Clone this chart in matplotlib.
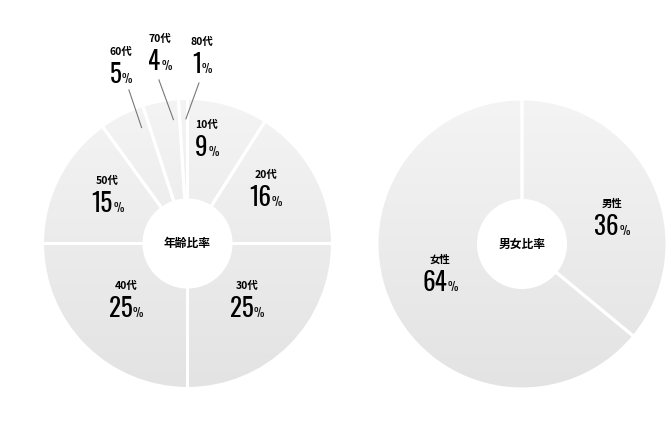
import numpy as np
import matplotlib.pyplot as plt
from matplotlib import font_manager
from matplotlib.colors import LinearSegmentedColormap
from matplotlib.offsetbox import TextArea, HPacker, AnnotationBbox

# data
age_labels = ['10代', '20代', '30代', '40代', '50代', '60代', '70代', '80代']
age_values = [9, 16, 25, 25, 15, 5, 4, 1]
sex_labels = ['男性', '女性']
sex_values = [36, 64]

# label layout (pie radius units) for the small caption of each slice
age_text_pos = [(0.134, 0.817), (0.541, 0.472), (0.410, -0.293), (-0.424, -0.293),
                (-0.552, 0.431), (-0.459, 1.321), (-0.190, 1.410), (0.100, 1.390)]
sex_text_pos = [(0.621, 0.276), (-0.566, -0.110)]
# leader line starts for slices whose label sits outside
leader_start = {5: (-0.404, 1.059), 6: (-0.197, 1.128), 7: (0.079, 1.107)}

installed = {f.name for f in font_manager.fontManager.ttflist}
JP = 'Noto Sans CJK JP'
NUM = 'DejaVu Sans'
for cand in ['Oswald', 'Roboto Condensed', 'Barlow Condensed', 'Archivo Narrow',
             'PT Sans Narrow', 'Liberation Sans Narrow']:
    if cand in installed:
        NUM = cand
        break

grad_cmap = LinearSegmentedColormap.from_list('g', ['#f4f4f4', '#e3e3e3'])
grad = np.linspace(0, 1, 256).reshape(-1, 1)

fig = plt.figure(figsize=(6.7, 4.24), dpi=100)
fig.patch.set_facecolor('white')


def donut(ax, values, labels, text_pos, title, leaders={}):
    wedges, _ = ax.pie(values, startangle=90, counterclock=False, radius=1,
                       wedgeprops=dict(width=0.70, facecolor='none',
                                       edgecolor='white', linewidth=2.2, zorder=3))
    for w in wedges:
        im = ax.imshow(grad, extent=(-1, 1, -1, 1), cmap=grad_cmap, origin='upper',
                       aspect='auto', zorder=1, vmin=0, vmax=1)
        im.set_clip_path(w)
    ax.set_xlim(-1, 1)
    ax.set_ylim(-1, 1)
    ax.set_aspect('equal')
    ax.axis('off')

    ax.text(0, 0, title, ha='center', va='center', fontsize=8.5,
            fontweight='bold', family=JP, zorder=5)

    total = float(sum(values))
    start = 0.0
    for i, (v, lab, pos) in enumerate(zip(values, labels, text_pos)):
        ax.annotate(lab, xy=pos, ha='center', va='center', fontsize=7.5,
                    fontweight='bold', family=JP, annotation_clip=False, zorder=5)
        box = HPacker(children=[
            TextArea('%d' % v, textprops=dict(fontsize=18, family=NUM, color='#000000')),
            TextArea('%', textprops=dict(fontsize=8.5, family=NUM, color='#111111'))],
            align='baseline', pad=0, sep=0.5)
        ab = AnnotationBbox(box, pos, xybox=(0, -16.5), xycoords='data',
                            boxcoords='offset points', frameon=False,
                            box_alignment=(0.5, 0.5), annotation_clip=False, zorder=5)
        ax.add_artist(ab)
        if i in leaders:
            ang = np.deg2rad(90 - 360 * (start + 0.8 * v) / total)
            end = (0.86 * np.cos(ang), 0.86 * np.sin(ang))
            ax.plot([leaders[i][0], end[0]], [leaders[i][1], end[1]],
                    color='#777777', lw=0.8, zorder=4, clip_on=False)
        start += v


ax1 = fig.add_axes([42.5 / 670, (424 - 388.5) / 424, 290 / 670, 290 / 424])
donut(ax1, age_values, age_labels, age_text_pos, '年齢比率', leader_start)

ax2 = fig.add_axes([377 / 670, (424 - 389) / 424, 290 / 670, 290 / 424])
donut(ax2, sex_values, sex_labels, sex_text_pos, '男女比率')

fig.savefig('out.png', dpi=100)
